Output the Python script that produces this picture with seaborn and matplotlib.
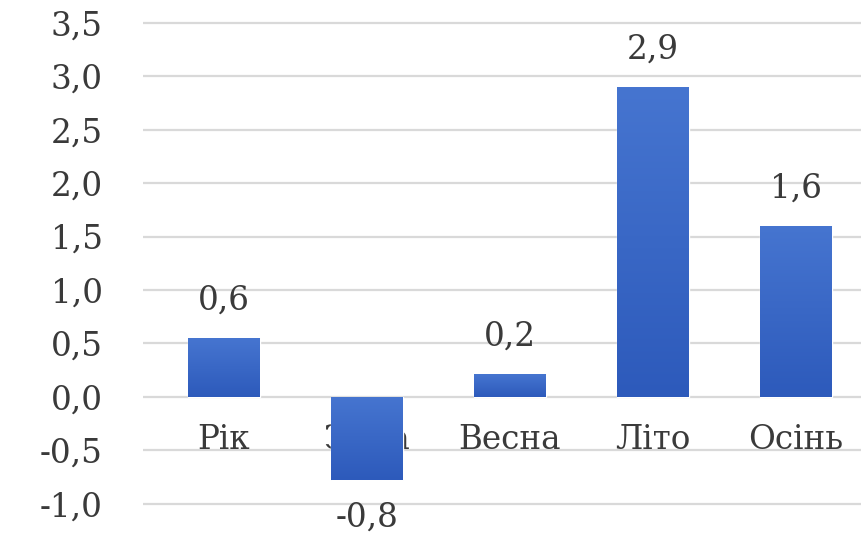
import numpy as np
import pandas as pd
import matplotlib
matplotlib.use('Agg')
import matplotlib.pyplot as plt
import seaborn as sns
from matplotlib.ticker import FuncFormatter, MultipleLocator
from matplotlib.colors import LinearSegmentedColormap

# data
seasons = ['Рік', 'Зима', 'Весна', 'Літо', 'Осінь']
values = [0.55, -0.78, 0.21, 2.9, 1.6]
value_labels = ['0,6', '-0,8', '0,2', '2,9', '1,6']

df = pd.DataFrame({'Season': seasons, 'Value': values})

sns.set_style('white')
# the source text is a wide serif, DejaVu Serif comes closest
plt.rcParams['font.family'] = ['DejaVu Serif', 'Liberation Serif']
FS = 23.5
TXT = '#3A3A3A'

fig = plt.figure(figsize=(8.61, 5.33), dpi=100)
ax = fig.add_axes([0.166, 0.0447, 0.834, 0.9225])

sns.barplot(data=df, x='Season', y='Value', color='#3A67C6', width=0.5,
            saturation=1, ax=ax, zorder=3)

# gradient fill on each bar
cmap = LinearSegmentedColormap.from_list('blues', ['#2D5ABB', '#4675D0'])
grad = np.linspace(0, 1, 256).reshape(-1, 1)
for p in ax.patches:
    x0, y0 = p.get_x(), p.get_y()
    w, h = p.get_width(), p.get_height()
    ylo, yhi = min(y0, y0 + h), max(y0, y0 + h)
    im = ax.imshow(grad, extent=[x0, x0 + w, ylo, yhi], origin='lower',
                   cmap=cmap, aspect='auto', zorder=3.1)
    im.set_clip_path(p)

ax.set_xlim(-0.566, 4.455)
ax.set_ylim(-1.05, 3.55)

ax.yaxis.set_major_locator(MultipleLocator(0.5))
ax.yaxis.set_major_formatter(FuncFormatter(lambda v, pos: f'{v:.1f}'.replace('.', ',')))
ax.grid(axis='y', color='#D9D9D9', linewidth=1.6, zorder=0)
ax.set_axisbelow(True)
ax.tick_params(axis='y', labelsize=FS, labelcolor=TXT, length=0, pad=29)
ax.set_xticks([])
ax.set_xlabel('')
ax.set_ylabel('')
for s in ax.spines.values():
    s.set_visible(False)

# category names sit inside the plot, below the zero line
for i, name in enumerate(seasons):
    ax.text(i, -0.4, name, ha='center', va='center', fontsize=FS,
            color=TXT, zorder=2)

# value labels
for i, (v, lab) in enumerate(zip(values, value_labels)):
    off = 27 if v >= 0 else -27
    ax.annotate(lab, (i, v), xytext=(0, off), textcoords='offset points',
                ha='center', va='center', fontsize=FS, color=TXT,
                annotation_clip=False)

fig.savefig('out.png', dpi=100)
